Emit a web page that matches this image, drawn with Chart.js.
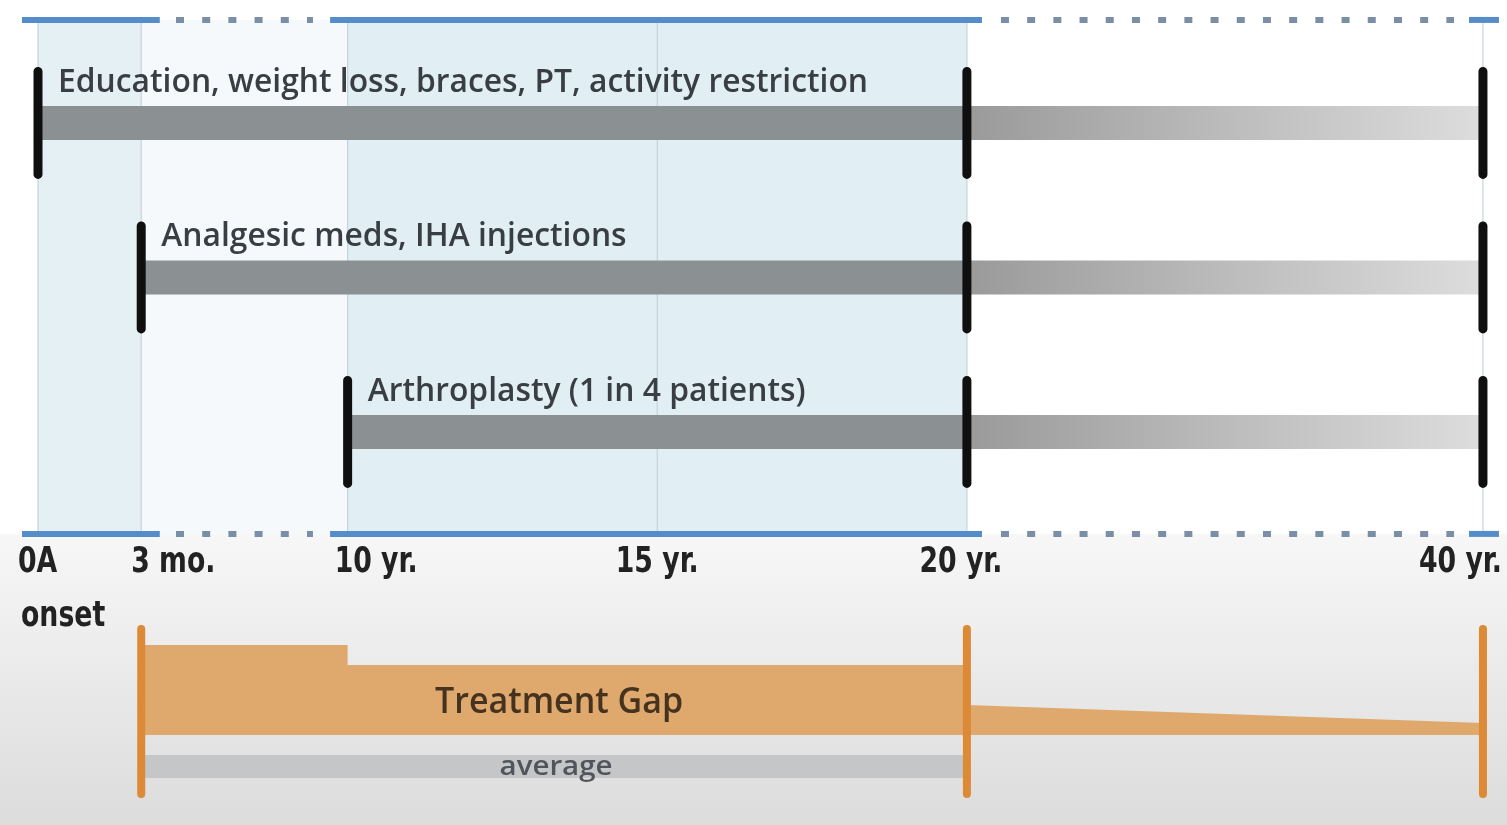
<!DOCTYPE html>
<html><head><meta charset="utf-8">
<script src="https://cdn.jsdelivr.net/npm/chart.js@4.4.1/dist/chart.umd.min.js"></script>
<style>html,body{margin:0;padding:0;background:#fff;overflow:hidden}canvas{display:block}</style>
</head><body><canvas id="c" width="1507" height="825"></canvas>
<script>
// ---- data ----
const timeLabels = ['0A', '3 mo.', '10 yr.', '15 yr.', '20 yr.', '40 yr.'];
const timeSubLabels = ['onset', '', '', '', '', ''];
const timePos = [0, 1, 3, 6, 9, 14];
const treatments = ['Education, weight loss, braces, PT, activity restriction', 'Analgesic meds, IHA injections', 'Arthroplasty (1 in 4 patients)'];
const treatStart = [0, 1, 3];
const treatFull = [9, 9, 9];
const treatFade = [14, 14, 14];
const treatLane = [1, 2, 3];
const gapX = [1, 3, 3, 9, 9, 14];
const gapTop = [4.379, 4.379, 4.508, 4.508, 4.767, 4.884];
const gapBase = [4.961];
const gapMarks = [1, 9, 14];
const gapMarkLane = [4.809];
const gapLabel = ['Treatment Gap'];
const avgRange = [1, 9];
const avgLane = [5.165];
const avgLabel = ['average'];
const axisLanes = [0.333, 3.66];
const solidSegs = [[-0.155, 1.18], [2.83, 9.146], [13.865, 14.155]];
const dottedSegs = [[1.337, 2.664], [9.33, 13.72]];
const shadeRanges = [[0, 1], [1, 3], [3, 9]];

// ---- style ----
const S = {
  shade: ['#e5f0f5', '#f5f9fb', '#e1eff4'],
  grid: '#c4d3db',
  blue: '#558dca', dots: '#7a8ea6',
  bar: '#8b9092', fadeFrom: '#9a9a9a', fadeTo: '#dddddd',
  marker: '#0f0f10', orange: '#dc8a36', gapFill: '#dfa86d', avg: '#c4c6c8',
  text: '#383e44', tick: '#222222', gapText: '#45331f', avgText: '#50555b',
  markerHalf: 0.333, orangeHalf: 0.534
};

const datasets = [];
const seg = (x0, y0, x1, y1) => [{x: x0, y: y0}, {x: x1, y: y1}];

shadeRanges.forEach((r, i) => datasets.push({
  data: seg(r[0], axisLanes[0], r[1], axisLanes[0]), fill: {value: axisLanes[1]},
  backgroundColor: S.shade[i], borderWidth: 0, order: 100
}));
timePos.forEach(p => datasets.push({
  data: seg(p, axisLanes[0], p, axisLanes[1]), borderColor: S.grid, borderWidth: 1.2, order: 90
}));
axisLanes.forEach(l => {
  solidSegs.forEach(s => datasets.push({data: seg(s[0], l, s[1], l), borderColor: S.blue, borderWidth: 6, order: 80}));
  dottedSegs.forEach(s => datasets.push({data: seg(s[0], l, s[1], l), borderColor: S.dots, borderWidth: 6, borderDash: [8, 18.2], order: 80}));
});
treatments.forEach((t, i) => {
  const l = treatLane[i];
  datasets.push({data: seg(treatStart[i], l, treatFull[i], l), borderColor: S.bar, borderWidth: 34, order: 70});
  datasets.push({data: seg(treatFull[i], l, treatFade[i], l), borderWidth: 34, order: 70,
    borderColor: (ctx) => {
      const ch = ctx.chart; if (!ch.chartArea) return S.fadeFrom;
      const xs = ch.scales.x;
      const g = ch.ctx.createLinearGradient(xs.getPixelForValue(treatFull[i]), 0, xs.getPixelForValue(treatFade[i]), 0);
      g.addColorStop(0, S.fadeFrom); g.addColorStop(1, S.fadeTo); return g;
    }});
  [treatStart[i], treatFull[i], treatFade[i]].forEach(x => datasets.push({
    data: seg(x, l - S.markerHalf, x, l + S.markerHalf), borderColor: S.marker, borderWidth: 9, borderCapStyle: 'round', order: 10
  }));
});
datasets.push({data: gapX.map((x, i) => ({x, y: gapTop[i]})), fill: {value: gapBase[0]}, backgroundColor: S.gapFill, borderWidth: 0, order: 60});
datasets.push({data: seg(avgRange[0], avgLane[0], avgRange[1], avgLane[0]), borderColor: S.avg, borderWidth: 23, order: 60});
gapMarks.forEach(x => datasets.push({
  data: seg(x, gapMarkLane[0] - S.orangeHalf, x, gapMarkLane[0] + S.orangeHalf), borderColor: S.orange, borderWidth: 8, borderCapStyle: 'round', order: 10
}));

function fitText(c, text, x, y, font, targetRef, refText, align, color) {
  c.save(); c.font = font; c.fillStyle = color; c.textBaseline = 'alphabetic';
  const sx = targetRef / c.measureText(refText).width;
  c.translate(x, y); c.scale(sx, 1); c.textAlign = align; c.fillText(text, 0, 0); c.restore();
}

const bgPlugin = {
  id: 'bg',
  beforeDraw(chart) {
    const c = chart.ctx, w = chart.width, h = chart.height, ys = chart.scales.y;
    c.save(); c.fillStyle = '#fff'; c.fillRect(0, 0, w, h);
    const yb = ys.getPixelForValue(axisLanes[1]);
    const g = c.createLinearGradient(0, yb, 0, h);
    g.addColorStop(0, '#f7f7f7'); g.addColorStop(1, '#dcdcdc');
    c.fillStyle = g; c.fillRect(0, yb, w, h - yb); c.restore();
  }
};
const tickAlign = ['left', 'left', 'left', 'center', 'center', 'right'];
const tickShift = [-20, -10, -13, 0, -6, 19];
const textPlugin = {
  id: 'texts',
  afterDatasetsDraw(chart) {
    const c = chart.ctx, xs = chart.scales.x, ys = chart.scales.y;
    const rowFont = '600 33px "Open Sans", sans-serif';
    treatments.forEach((t, i) => {
      fitText(c, t, xs.getPixelForValue(treatStart[i]) + 20, ys.getPixelForValue(treatLane[i]) - 31,
        rowFont, 810, treatments[0], 'left', S.text);
    });
    const tickFont = 'bold 35px "Liberation Sans Narrow", "DejaVu Sans Condensed", sans-serif';
    const yTick = ys.getPixelForValue(axisLanes[1]) + 38;
    timeLabels.forEach((t, i) => {
      const x = xs.getPixelForValue(timePos[i]) + tickShift[i];
      fitText(c, t, x, yTick, tickFont, 83, '15 yr.', tickAlign[i], S.tick);
      if (timeSubLabels[i]) fitText(c, timeSubLabels[i], x + 3, yTick + 54, tickFont, 83, '15 yr.', tickAlign[i], S.tick);
    });
    const mid = xs.getPixelForValue((avgRange[0] + avgRange[1]) / 2);
    const gy = ys.getPixelForValue((gapTop[2] + gapBase[0]) / 2) + 13;
    fitText(c, gapLabel[0], mid + 5, gy, '600 36px "Open Sans", sans-serif', 248, gapLabel[0], 'center', S.gapText);
    fitText(c, avgLabel[0], mid + 2, ys.getPixelForValue(avgLane[0]) + 9, '600 27px "Open Sans", sans-serif', 113, avgLabel[0], 'center', S.avgText);
  }
};

new Chart(document.getElementById('c'), {
  type: 'scatter',
  data: {datasets},
  options: {
    responsive: false, animation: false, devicePixelRatio: 1,
    layout: {padding: 0},
    showLine: true,
    elements: {point: {radius: 0, hoverRadius: 0}, line: {tension: 0, borderCapStyle: 'butt'}},
    plugins: {legend: {display: false}, tooltip: {enabled: false}},
    scales: {
      x: {type: 'linear', min: -0.3682, max: 14.233, display: false},
      y: {type: 'linear', reverse: true, min: 0.204, max: 5.544, display: false}
    }
  },
  plugins: [bgPlugin, textPlugin]
});
</script></body></html>
